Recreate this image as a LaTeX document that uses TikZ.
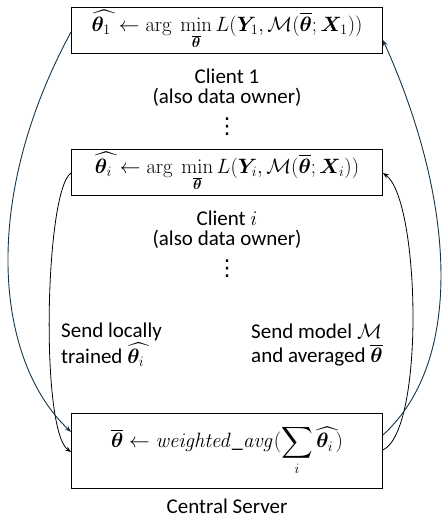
\documentclass[tikz,border=0pt]{standalone}
\usepackage{amsmath,amssymb,bm}
\usepackage[no-math]{fontspec}
\setmainfont{Carlito}
\newfontfamily\dejavu{DejaVu Sans}
\usetikzlibrary{arrows.meta}
\definecolor{navy}{RGB}{22,52,72}
\newcommand{\thhat}[1]{\widehat{{\bm{\theta}_{#1}}\mkern5mu}\mkern-3mu}
\newcommand{\thbar}{\overline{\bm{\theta}}}
\newcommand{\myvdots}{{\dejavu\fontsize{22}{22}\selectfont ⋮}}
\tikzset{
  box/.style={draw, line width=0.9pt, minimum width=311pt, inner sep=0pt, font=\fontsize{22}{24}\selectfont},
  lbl/.style={font=\fontsize{21}{22}\selectfont, align=center, inner sep=0pt},
  side/.style={font=\fontsize{21}{24}\selectfont, align=left, anchor=west, inner sep=0pt},
  inarr/.style={-{Stealth[length=6pt,width=4.5pt]}, line width=0.8pt, black},
  outarr/.style={-{Stealth[length=6pt,width=4.5pt]}, line width=0.9pt, navy},
}
\begin{document}
\begin{tikzpicture}[x=1pt,y=-1pt]
\useasboundingbox (0,0) rectangle (447,521);
\node[box, minimum height=46pt] (b1) at (227,30) {$\thhat{1}\leftarrow \arg\ \min\limits_{\thbar} L(\bm{Y}_1,\mathcal{M}(\thbar;\bm{X}_1))$};
\node[lbl] (c1) at (227,76) {Client 1};
\node[lbl] (o1) at (227,97) {(also data owner)};
\node[lbl] (d1) at (227,127) {\myvdots};
\node[box, minimum height=46pt] (b2) at (227,172) {$\thhat{i}\leftarrow \arg\ \min\limits_{\thbar} L(\bm{Y}_i,\mathcal{M}(\thbar;\bm{X}_i))$};
\node[lbl] (c2) at (227,218) {Client $i$};
\node[lbl] (o2) at (227,239) {(also data owner)};
\node[lbl] (d2) at (227,269) {\myvdots};
\node[side] (sl) at (61,345) {Send locally\\trained $\thhat{i}$};
\node[side] (sm) at (251,345) {Send model $\mathcal{M}$\\and averaged $\thbar$};
\node[box, minimum height=75pt] (b3) at (227,450.5) {$\thbar\leftarrow \mathit{weighted\_avg}(\displaystyle\sum_{i}\thhat{i})$};
\node[lbl] (cs) at (227,506) {Central Server};
% inner arrows
\draw[inarr] ([yshift=-1pt]b2.west) .. controls (45,190) and (40,430) .. ([yshift=-1.5pt]b3.west);
\draw[inarr] ([yshift=0.5pt]b3.east) .. controls (425,430) and (420,200) .. ([yshift=-1pt]b2.east);
% outer arrows
\draw[outarr] ([yshift=-2pt]b1.west) .. controls (-20,200) and (-5,360) .. ([yshift=18.5pt]b3.west);
\draw[outarr] ([yshift=15.5pt]b3.east) .. controls (465,360) and (455,200) .. ([yshift=-10pt]b1.east);
\end{tikzpicture}
\end{document}
